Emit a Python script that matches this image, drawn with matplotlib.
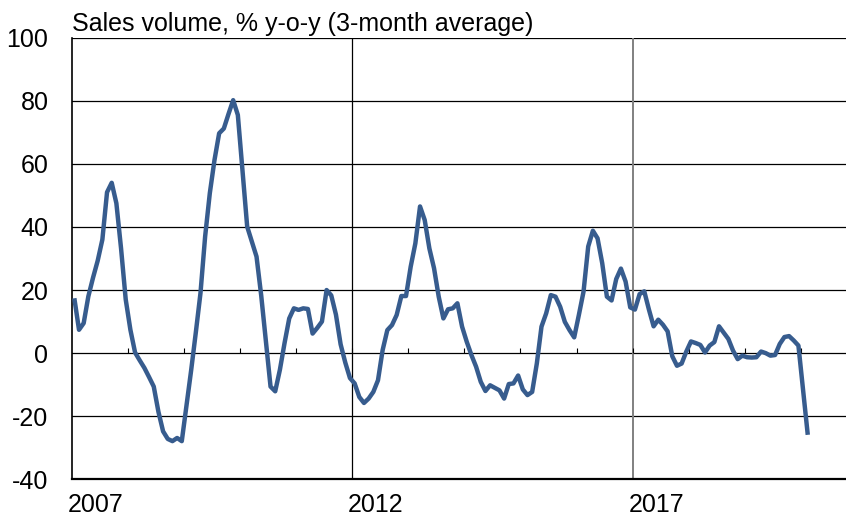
import numpy as np
import matplotlib
matplotlib.use("Agg")
import matplotlib.pyplot as plt

plt.rcParams["font.family"] = ["Liberation Sans", "DejaVu Sans"]
plt.rcParams["axes.unicode_minus"] = False

# monthly data, Jan 2007 - Feb 2020
start_year = 2007
sales_yoy = [
    17.4, 7.4, 9.5, 18.0, 23.9, 29.3, 36.0, 51.0, 54.0, 47.5, 33.2, 17.0,
    7.4, 0.2, -2.3, -4.7, -7.6, -10.6, -18.6, -24.8, -27.2, -27.9, -26.9, -27.9,
    -16.6, -5.5, 6.5, 19.0, 37.0, 50.7, 61.2, 69.7, 71.2, 75.8, 80.2, 75.5,
    58.0, 40.1, 35.4, 30.6, 18.3, 3.9, -10.6, -12.1, -5.3, 3.2, 11.0, 14.2,
    13.7, 14.2, 14.0, 6.2, 8.0, 10.0, 20.0, 18.3, 12.2, 2.8, -3.0, -7.9,
    -9.6, -13.9, -15.8, -14.4, -12.3, -8.6, 1.0, 7.3, 8.9, 12.1, 18.1, 18.1,
    27.4, 34.8, 46.5, 42.2, 33.2, 26.9, 17.9, 11.0, 13.9, 14.2, 15.8, 8.4,
    3.6, -0.6, -4.3, -9.1, -12.0, -10.2, -11.0, -11.8, -14.4, -9.8, -9.6, -7.1,
    -11.5, -13.3, -12.3, -3.3, 8.4, 12.6, 18.4, 17.9, 14.7, 9.9, 7.3, 5.0,
    12.1, 19.5, 33.8, 38.8, 36.4, 28.5, 17.9, 16.7, 23.5, 26.8, 22.7, 14.5,
    13.8, 18.7, 19.6, 13.8, 8.5, 10.6, 9.0, 6.9, -1.0, -4.0, -3.3, 0.5,
    3.7, 3.2, 2.6, 0.2, 2.4, 3.5, 8.5, 6.5, 4.5, 0.8, -1.9, -0.8,
    -1.3, -1.4, -1.3, 0.5, 0.0, -0.8, -0.6, 2.9, 5.1, 5.4, 4.0, 2.4,
    -11.7, -25.9,
]
months = start_year + (np.arange(len(sales_yoy)) + 0.5) / 12

y_ticks = [-40, -20, 0, 20, 40, 60, 80, 100]
year_labels = [2007, 2012, 2017]
minor_years = list(range(2008, 2021))

line_color = "#375C8E"

fig = plt.figure(figsize=(8.46, 5.19), dpi=100)
ax = fig.add_axes([72 / 846, 39.7 / 519, 774 / 846, 441.6 / 519])
ax.set_xlim(2007, 2020.807)
ax.set_ylim(-40, 100)

# grid
for v in y_ticks[1:]:
    ax.axhline(v, color="black", lw=0.9, zorder=1)
ax.axvline(2012, color="black", lw=0.9, zorder=1)
ax.axvline(2017, color="#808080", lw=1.4, zorder=1)
ax.vlines(minor_years, 0, 1.7, color="black", lw=0.8, zorder=1)

ax.plot(months, sales_yoy, color=line_color, lw=3.2, zorder=3,
        solid_joinstyle="round", solid_capstyle="butt")

for s in ["top", "right"]:
    ax.spines[s].set_visible(False)
ax.spines["left"].set_linewidth(1.2)
ax.spines["bottom"].set_linewidth(1.6)

ax.set_yticks(y_ticks)
ax.tick_params(axis="y", length=0, pad=17, labelsize=18)
ax.set_xticks([])

for yr in year_labels:
    ax.annotate(str(yr), xy=(yr, 0), xycoords=("data", "axes fraction"),
                xytext=(-3, -10), textcoords="offset points",
                ha="left", va="top", fontsize=18)

fig.text(72 / 846, 1 - 31 / 519, "Sales volume, % y-o-y (3-month average)",
         fontsize=18, ha="left", va="baseline")

fig.savefig("out.png", dpi=100)
